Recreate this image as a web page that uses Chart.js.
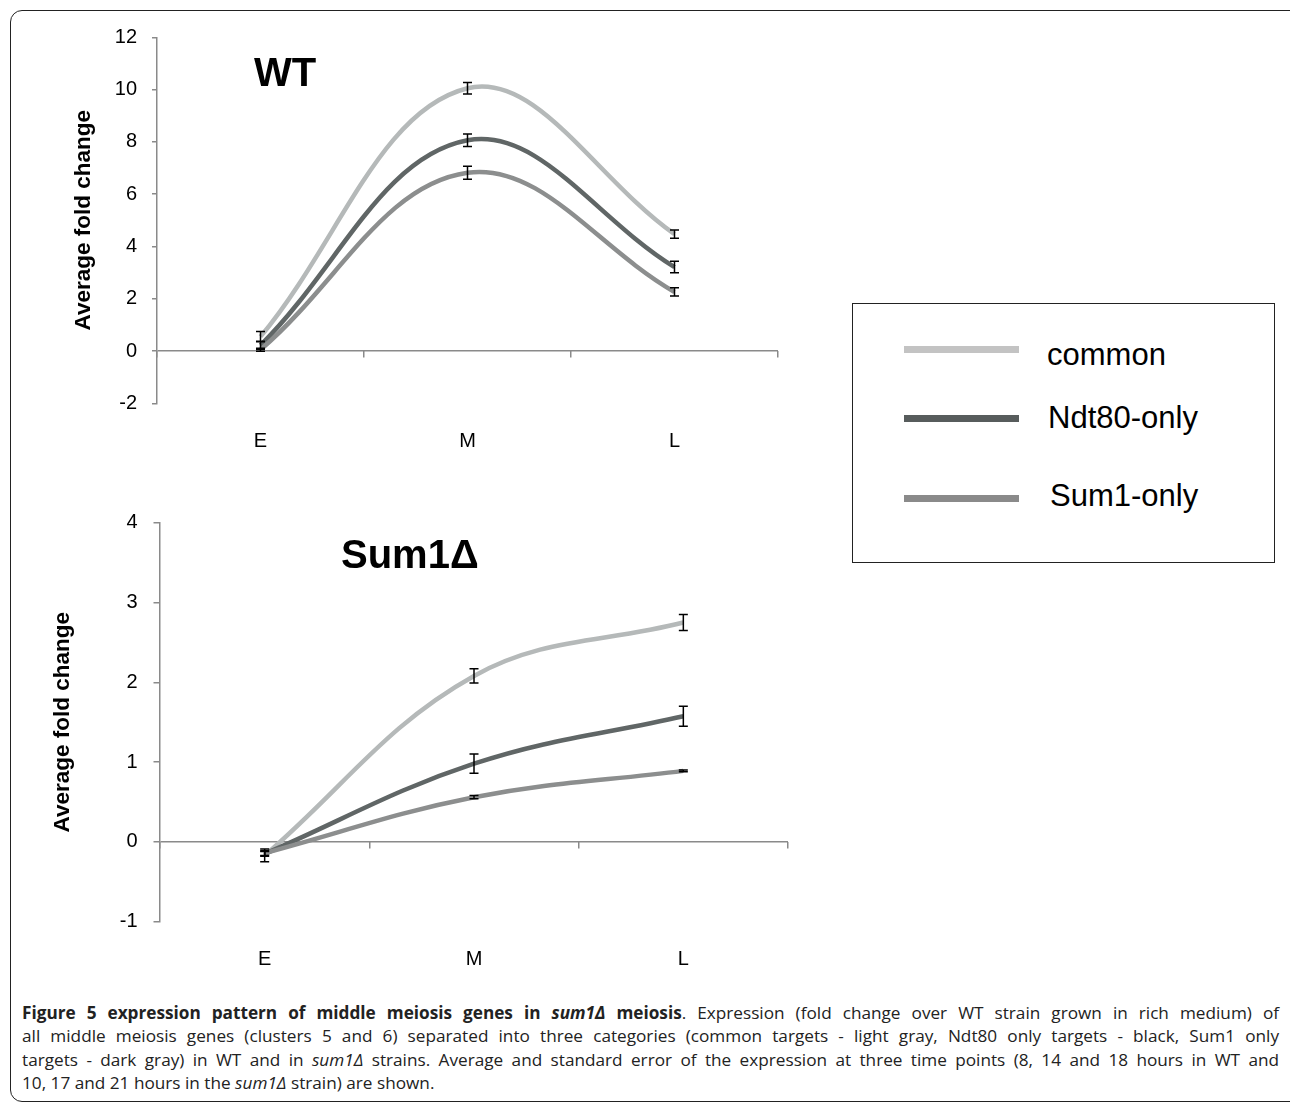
<!DOCTYPE html>
<html>
<head>
<meta charset="utf-8">
<script src="https://cdn.jsdelivr.net/npm/chart.js@4/dist/chart.umd.min.js"></script>
<style>
  html, body { margin:0; padding:0; background:#fff; }
  body { width:1290px; height:1105px; position:relative; overflow:hidden; font-family:'Liberation Sans', Arial, sans-serif; }
  #frame { position:absolute; left:10px; top:10px; width:1310px; height:1092px; border:1.5px solid #222; border-radius:12px; box-sizing:border-box; }
  .cwrap { position:absolute; left:0; width:800px; }
  .ptitle { position:absolute; font-weight:bold; font-size:40px; color:#000; line-height:1; white-space:nowrap; }
  #legend { position:absolute; left:852px; top:303px; width:423px; height:260px; border:1.5px solid #222; box-sizing:border-box; }
  .lgline { position:absolute; left:51px; width:115px; height:7px; }
  .lgtext { position:absolute; font-size:31px; color:#000; line-height:1; white-space:nowrap; }
  #caption { position:absolute; left:22px; top:1001px; width:1257px; font-family:'Open Sans', sans-serif; font-size:17.2px; color:#222; line-height:23.4px; }
  #caption .ln { text-align:justify; text-align-last:justify; white-space:nowrap; }
  #caption .ln.last { text-align-last:left; }
</style>
</head>
<body>
<div id="frame"></div>
<div class="cwrap" style="top:0;height:470px;"><canvas id="c1" width="800" height="470" style="width:800px;height:470px"></canvas></div>
<div class="cwrap" style="top:470px;height:520px;"><canvas id="c2" width="800" height="520" style="width:800px;height:520px"></canvas></div>
<div class="ptitle" style="left:254px;top:52px;">WT</div>
<div class="ptitle" style="left:341px;top:534px;">Sum1Δ</div>
<div id="legend"></div>
<div id="caption">
  <div class="ln"><b>Figure 5 expression pattern of middle meiosis genes in <i>sum1Δ</i> meiosis</b>. Expression (fold change over WT strain grown in rich medium) of</div>
  <div class="ln">all middle meiosis genes (clusters 5 and 6) separated into three categories (common targets - light gray, Ndt80 only targets - black, Sum1 only</div>
  <div class="ln">targets - dark gray) in WT and in <i>sum1Δ</i> strains. Average and standard error of the expression at three time points (8, 14 and 18 hours in WT and</div>
  <div class="ln last">10, 17 and 21 hours in the <i>sum1Δ</i> strain) are shown.</div>
</div>
<script>
// ---- data ----
const categories = ['E', 'M', 'L'];
const seriesNames = ['common', 'Ndt80-only', 'Sum1-only'];

const wtCommon = [0.55, 10.05, 4.47];
const wtCommonErr = [0.2, 0.22, 0.16];
const wtNdt80 = [0.22, 8.06, 3.21];
const wtNdt80Err = [0.15, 0.24, 0.22];
const wtSum1 = [0.05, 6.82, 2.26];
const wtSum1Err = [0.06, 0.25, 0.16];

const sumCommon = [-0.17, 2.08, 2.75];
const sumCommonErr = [0.08, 0.09, 0.1];
const sumNdt80 = [-0.15, 0.98, 1.575];
const sumNdt80Err = [0.03, 0.12, 0.125];
const sumSum1 = [-0.14, 0.56, 0.89];
const sumSum1Err = [0.03, 0.02, 0.01];

const wtTicks = [-2, 0, 2, 4, 6, 8, 10, 12];
const sumTicks = [-1, 0, 1, 2, 3, 4];

const lineColors = ['#b5b9b9', '#606666', '#8c8e8e'];
const legendColors = ['#c3c3c3', '#575c5c', '#8a8a8a'];

// ---- legend (HTML, built from series arrays) ----
const legend = document.getElementById('legend');
const lgLineTops = [45, 114, 194];
const lgTextTops = [35, 98, 176];
const lgTextLeft = [194, 195, 197];
seriesNames.forEach((n, i) => {
  const l = document.createElement('div');
  l.className = 'lgline';
  l.style.top = (lgLineTops[i] - 3.5) + 'px';
  l.style.background = legendColors[i];
  legend.appendChild(l);
  const t = document.createElement('div');
  t.className = 'lgtext';
  t.style.top = lgTextTops[i] + 'px';
  t.style.left = lgTextLeft[i] + 'px';
  t.textContent = n;
  legend.appendChild(t);
});

Chart.defaults.font.family = "'Liberation Sans', Arial, sans-serif";
Chart.defaults.color = '#000';

const errorBars = {
  id: 'errorBars',
  afterDatasetsDraw(chart) {
    const ctx = chart.ctx;
    const ys = chart.scales.y;
    ctx.save();
    ctx.strokeStyle = '#000';
    ctx.lineWidth = 1.5;
    chart.data.datasets.forEach((ds, i) => {
      const meta = chart.getDatasetMeta(i);
      ds.errors.forEach((e, j) => {
        const pt = meta.data[j];
        const x = pt.x;
        const y1 = ys.getPixelForValue(ds.data[j] + e);
        const y2 = ys.getPixelForValue(ds.data[j] - e);
        const w = 4.5;
        ctx.beginPath();
        ctx.moveTo(x, y1); ctx.lineTo(x, y2);
        ctx.moveTo(x - w, y1); ctx.lineTo(x + w, y1);
        ctx.moveTo(x - w, y2); ctx.lineTo(x + w, y2);
        ctx.stroke();
      });
    });
    ctx.restore();
  }
};

function makeChart(id, sets, errs, ticks, cfg) {
  const datasets = sets.map((d, i) => ({
    label: seriesNames[i],
    data: d,
    errors: errs[i],
    borderColor: lineColors[i],
    borderWidth: 4.5,
    pointRadius: 0,
    tension: 0.38,
    fill: false,
    order: 3 - i
  }));
  return new Chart(document.getElementById(id), {
    type: 'line',
    data: { labels: categories, datasets },
    plugins: [errorBars],
    options: {
      responsive: false,
      animation: false,
      events: [],
      layout: { padding: { left: 0, top: cfg.top, right: cfg.right, bottom: 0 } },
      plugins: { legend: { display: false }, tooltip: { enabled: false }, title: { display: false } },
      scales: {
        x: {
          type: 'category',
          offset: true,
          position: 'bottom',
          grid: { display: false },
          border: { display: false },
          ticks: { font: { size: 20 }, color: '#000', padding: cfg.xpad, maxRotation: 0 },
          afterFit(s) { s.height = cfg.xh; }
        },
        x2: {
          type: 'category',
          labels: categories,
          offset: true,
          position: { y: 0 },
          grid: { display: true, offset: true, drawOnChartArea: false, drawTicks: true, tickLength: 6.5, tickColor: '#8a8a8a', lineWidth: 1.5 },
          border: { display: false },
          ticks: { display: false }
        },
        y: {
          min: ticks[0],
          max: ticks[ticks.length - 1],
          afterBuildTicks(s) { s.ticks = ticks.map(v => ({ value: v })); },
          position: 'left',
          border: { display: true, color: '#8a8a8a', width: 1.5 },
          grid: {
            drawOnChartArea: true,
            color: c => (c.tick && c.tick.value === 0 ? '#8a8a8a' : 'rgba(0,0,0,0)'),
            lineWidth: 1.5,
            tickColor: '#8a8a8a',
            tickLength: cfg.ytl
          },
          ticks: { font: { size: 20 }, color: '#000', padding: cfg.ypad },
          title: { display: true, text: 'Average fold change', font: { size: 22.5, weight: 'bold' }, color: '#000', padding: { top: cfg.titlePad, bottom: 0 } },
          afterFit(s) { s.width = cfg.yw; }
        }
      }
    }
  });
}

makeChart('c1', [wtCommon, wtNdt80, wtSum1], [wtCommonErr, wtNdt80Err, wtSum1Err], wtTicks,
  { top: 37.3, right: 22, xh: 66.7, xpad: 18, yw: 157, ytl: 5, ypad: 15, titlePad: 70 });
makeChart('c2', [sumCommon, sumNdt80, sumSum1], [sumCommonErr, sumNdt80Err, sumSum1Err], sumTicks,
  { top: 52.7, right: 12, xh: 68.3, xpad: 18, yw: 160, ytl: 6.5, ypad: 16, titlePad: 49 });
</script>
</body>
</html>
